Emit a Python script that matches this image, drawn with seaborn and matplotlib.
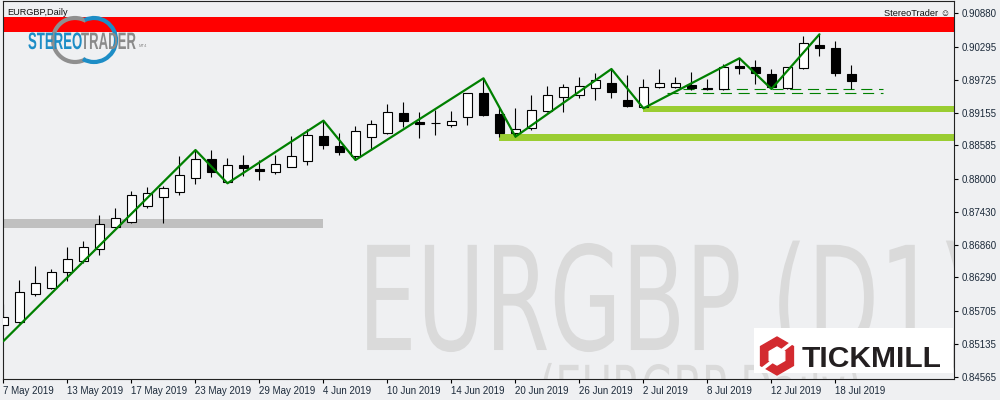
import matplotlib
matplotlib.use('Agg')
import pandas as pd
import seaborn as sns
import matplotlib.pyplot as plt
from matplotlib.patches import Rectangle, Arc, RegularPolygon
from matplotlib.lines import Line2D
from matplotlib.patheffects import AbstractPathEffect
from matplotlib.transforms import Affine2D

# EURGBP daily candles, 7 May 2019 - 19 Jul 2019 (one bar per business day)
dates = pd.bdate_range('2019-05-07', '2019-07-19')
opens = [0.85458, 0.85521, 0.85997, 0.86101, 0.86390, 0.86581, 0.86779, 0.87172, 0.87248, 0.87536,
         0.87682, 0.87780, 0.88009, 0.88343, 0.87954, 0.88239, 0.88179, 0.88117, 0.88214, 0.88308,
         0.88748, 0.88569, 0.88405, 0.88736, 0.88795, 0.89147, 0.88991, 0.88972, 0.88944, 0.89073,
         0.89490, 0.89130, 0.88800, 0.88882, 0.89187, 0.89431, 0.89455, 0.89577, 0.89664, 0.89373,
         0.89257, 0.89604, 0.89604, 0.89634, 0.89582, 0.89559, 0.89964, 0.89947, 0.89825, 0.89577,
         0.89935, 0.90329, 0.90277, 0.89825]
highs = [0.85828, 0.86245, 0.86489, 0.86431, 0.86814, 0.86923, 0.87375, 0.87491, 0.87792, 0.87856,
         0.87879, 0.88405, 0.88504, 0.88496, 0.88360, 0.88418, 0.88331, 0.88418, 0.88748, 0.88875,
         0.89014, 0.88800, 0.88922, 0.89026, 0.89304, 0.89339, 0.89160, 0.89191, 0.89182, 0.89495,
         0.89750, 0.89252, 0.89229, 0.89460, 0.89617, 0.89651, 0.89768, 0.89837, 0.89912, 0.89808,
         0.89738, 0.89912, 0.89778, 0.89855, 0.89738, 0.89994, 0.90098, 0.90068, 0.89912, 0.89948,
         0.90480, 0.90515, 0.90399, 0.89982]
lows = [0.85394, 0.85498, 0.85972, 0.86084, 0.86233, 0.86546, 0.86680, 0.87165, 0.87240, 0.87497,
        0.87241, 0.87717, 0.87908, 0.88030, 0.87926, 0.88053, 0.87983, 0.88082, 0.88210, 0.88249,
        0.88522, 0.88418, 0.88331, 0.88504, 0.88790, 0.88909, 0.88718, 0.88765, 0.88909, 0.88939,
        0.89095, 0.88736, 0.88736, 0.88852, 0.89170, 0.89160, 0.89413, 0.89373, 0.89403, 0.89246,
        0.89229, 0.89587, 0.89587, 0.89547, 0.89542, 0.89555, 0.89825, 0.89657, 0.89565, 0.89565,
        0.89912, 0.90143, 0.89796, 0.89565]
closes = [0.85594, 0.86042, 0.86188, 0.86390, 0.86605, 0.86814, 0.87213, 0.87318, 0.87717, 0.87752,
          0.87839, 0.88065, 0.88345, 0.88127, 0.88239, 0.88197, 0.88145, 0.88256, 0.88395, 0.88760,
          0.88597, 0.88475, 0.88829, 0.88956, 0.89160, 0.89014, 0.88951, 0.88965, 0.89003, 0.89490,
          0.89113, 0.88791, 0.88864, 0.89200, 0.89460, 0.89594, 0.89611, 0.89721, 0.89518, 0.89274,
          0.89594, 0.89664, 0.89664, 0.89587, 0.89565, 0.89942, 0.89929, 0.89848, 0.89594, 0.89942,
          0.90359, 0.90282, 0.89848, 0.89709]

# zigzag pivots: bar number and price
zz_bar = [0, 12, 14, 20, 22, 30, 32, 38, 40, 46, 48, 51]
zz_price = [0.85185, 0.88504, 0.87926, 0.89014, 0.88331, 0.89750, 0.88736, 0.89912, 0.89229, 0.90098, 0.89565, 0.90515]

# zones (low, high) and the bar each one starts/ends at
red_zone = (0.90550, 0.90821)
grey_zone = (0.87154, 0.87305)
grey_end = 20
green_zone_hi = (0.89160, 0.89269)
green_hi_start = 40
green_zone_lo = (0.88666, 0.88782)
green_lo_start = 31
dash_levels = [0.89559, 0.89490]
dash_start = [42.5, 41.5]
dash_end = 55

yticks = [0.90880, 0.90295, 0.89725, 0.89155, 0.88585, 0.88000, 0.87430, 0.86860,
          0.86290, 0.85705, 0.85135, 0.84565]
xtick_labels = ['7 May 2019', '13 May 2019', '17 May 2019', '23 May 2019', '29 May 2019',
                '4 Jun 2019', '10 Jun 2019', '14 Jun 2019', '20 Jun 2019', '26 Jun 2019',
                '2 Jul 2019', '8 Jul 2019', '12 Jul 2019', '18 Jul 2019']


class Stretch(AbstractPathEffect):
    # stretch glyphs vertically around their baseline (narrow tall fonts)
    def __init__(self, sy):
        super().__init__()
        self.sy = sy

    def draw_path(self, renderer, gc, tpath, affine, rgbFace=None):
        renderer.draw_path(gc, tpath, Affine2D().scale(1, self.sy) + affine, rgbFace)


sns.set_style('white')
plt.rcParams['font.family'] = ['Liberation Sans', 'DejaVu Sans']
bg = '#eff0f2'

fig = plt.figure(figsize=(10, 4), dpi=100, facecolor=bg)
ax = fig.add_axes([0.003, 0.0525, 0.951, 0.94625])
ax.set_facecolor(bg)

bars = list(range(len(dates)))

# watermark
ax.text(0.3733, 0.0766, 'EURGBP (D1)', transform=ax.transAxes, fontsize=67, color='#dadada',
        family='DejaVu Sans', va='baseline', ha='left', clip_on=True, zorder=0.5,
        path_effects=[Stretch(1.55)])
ax.text(0.5636, -0.087, '(EURGBP,Daily)', transform=ax.transAxes, fontsize=30, color='#dadada',
        family='DejaVu Sans', va='baseline', ha='left', clip_on=True, zorder=0.5,
        path_effects=[Stretch(1.55)])

# zones
ax.fill_between([-1, 60], red_zone[0], red_zone[1], color='#ff0000', linewidth=0, zorder=1)
ax.fill_between([-1, grey_end], grey_zone[0], grey_zone[1], color='#c0c0c0', linewidth=0, zorder=1)
ax.fill_between([green_hi_start, 60], green_zone_hi[0], green_zone_hi[1], color='#9acd32', linewidth=0, zorder=1)
ax.fill_between([green_lo_start, 60], green_zone_lo[0], green_zone_lo[1], color='#9acd32', linewidth=0, zorder=1)
for lvl, x0 in zip(dash_levels, dash_start):
    ax.plot([x0, dash_end], [lvl, lvl], color='#008000', linewidth=0.8,
            linestyle=(0, (10, 6)), zorder=1.5)

# candles
bottoms = [min(o, c) for o, c in zip(opens, closes)]
heights = [abs(c - o) for o, c in zip(opens, closes)]
fills = ['white' if c >= o else 'black' for o, c in zip(opens, closes)]
ax.vlines(bars, lows, highs, color='black', linewidth=0.8, zorder=2)
ax.bar(bars, heights, bottom=bottoms, width=0.58, color=fills, edgecolor='black',
       linewidth=0.8, zorder=3)

# zigzag
sns.lineplot(x=zz_bar, y=zz_price, ax=ax, color='#008000', linewidth=1.6, sort=False,
             estimator=None, legend=False, zorder=4)

ax.set_xlim(-0.031, 59.41)
ax.set_ylim(0.84525, 0.91102)
ax.set_xlabel('')
ax.set_ylabel('')

ax.yaxis.tick_right()
ax.set_yticks(yticks)
ax.set_yticklabels(['%.5f' % v for v in yticks])
ax.set_xticks(bars[::4])
ax.set_xticklabels(xtick_labels, ha='left')
ax.tick_params(axis='y', right=True, left=False, direction='out', length=3, width=0.8,
               pad=2.5, labelsize=7, color='black', labelcolor='#1c2a3a')
ax.tick_params(axis='x', bottom=True, direction='out', length=3, width=0.8,
               pad=2, labelsize=7, color='black', labelcolor='#1c2a3a')
for s in ax.spines.values():
    s.set_visible(True)
    s.set_color('#222222')
    s.set_linewidth(0.8)

# header texts
fig.text(0.007, 0.9625, 'EURGBP,Daily', fontsize=6.6, color='#111111', va='baseline')
fig.text(0.950, 0.96, 'StereoTrader \u263a', fontsize=6.7, color='#111111', ha='right', va='baseline')

# StereoTrader logo
fig.add_artist(Arc((0.75, 3.60), 0.44, 0.44, theta1=60, theta2=300, linewidth=3,
                   color='#8f8f8f', transform=fig.dpi_scale_trans, zorder=1.5))
fig.add_artist(Arc((0.94, 3.60), 0.44, 0.44, theta1=-120, theta2=115, linewidth=3,
                   color='#1d8dc6', transform=fig.dpi_scale_trans, zorder=1.5))
fig.text(0.028, 0.8775, 'STEREO', fontsize=9.5, fontweight='bold', color='#1d8dc6',
         va='baseline', path_effects=[Stretch(1.8)], zorder=2)
fig.text(0.081, 0.8775, 'TRADER', fontsize=9.5, fontweight='bold', color='#8a8a8a',
         va='baseline', path_effects=[Stretch(1.8)], zorder=2)
fig.text(0.139, 0.8825, 'MT4', fontsize=3, color='#8a8a8a', va='baseline', zorder=2)

# Tickmill logo
fig.add_artist(Rectangle((0.754, 0.0675), 0.199, 0.1125, transform=fig.transFigure,
                         facecolor='white', edgecolor='none', zorder=4))
fig.add_artist(RegularPolygon((7.77, 0.44), numVertices=6, radius=0.19,
                              transform=fig.dpi_scale_trans, color='#d32a2f', zorder=5))
fig.add_artist(RegularPolygon((7.77, 0.44), numVertices=6, radius=0.09,
                              transform=fig.dpi_scale_trans, color='white', zorder=5.1))
fig.add_artist(Line2D([7.80, 7.93], [0.48, 0.58], transform=fig.dpi_scale_trans,
                      color='white', linewidth=2.5, zorder=5.2))
fig.add_artist(Line2D([7.74, 7.61], [0.40, 0.30], transform=fig.dpi_scale_trans,
                      color='white', linewidth=2.5, zorder=5.2))
fig.text(0.802, 0.0833, 'TICKMILL', fontsize=21.6, fontweight='bold', color='#231f20',
         va='baseline', zorder=6)

fig.savefig('out.png', dpi=100, facecolor=fig.get_facecolor())
